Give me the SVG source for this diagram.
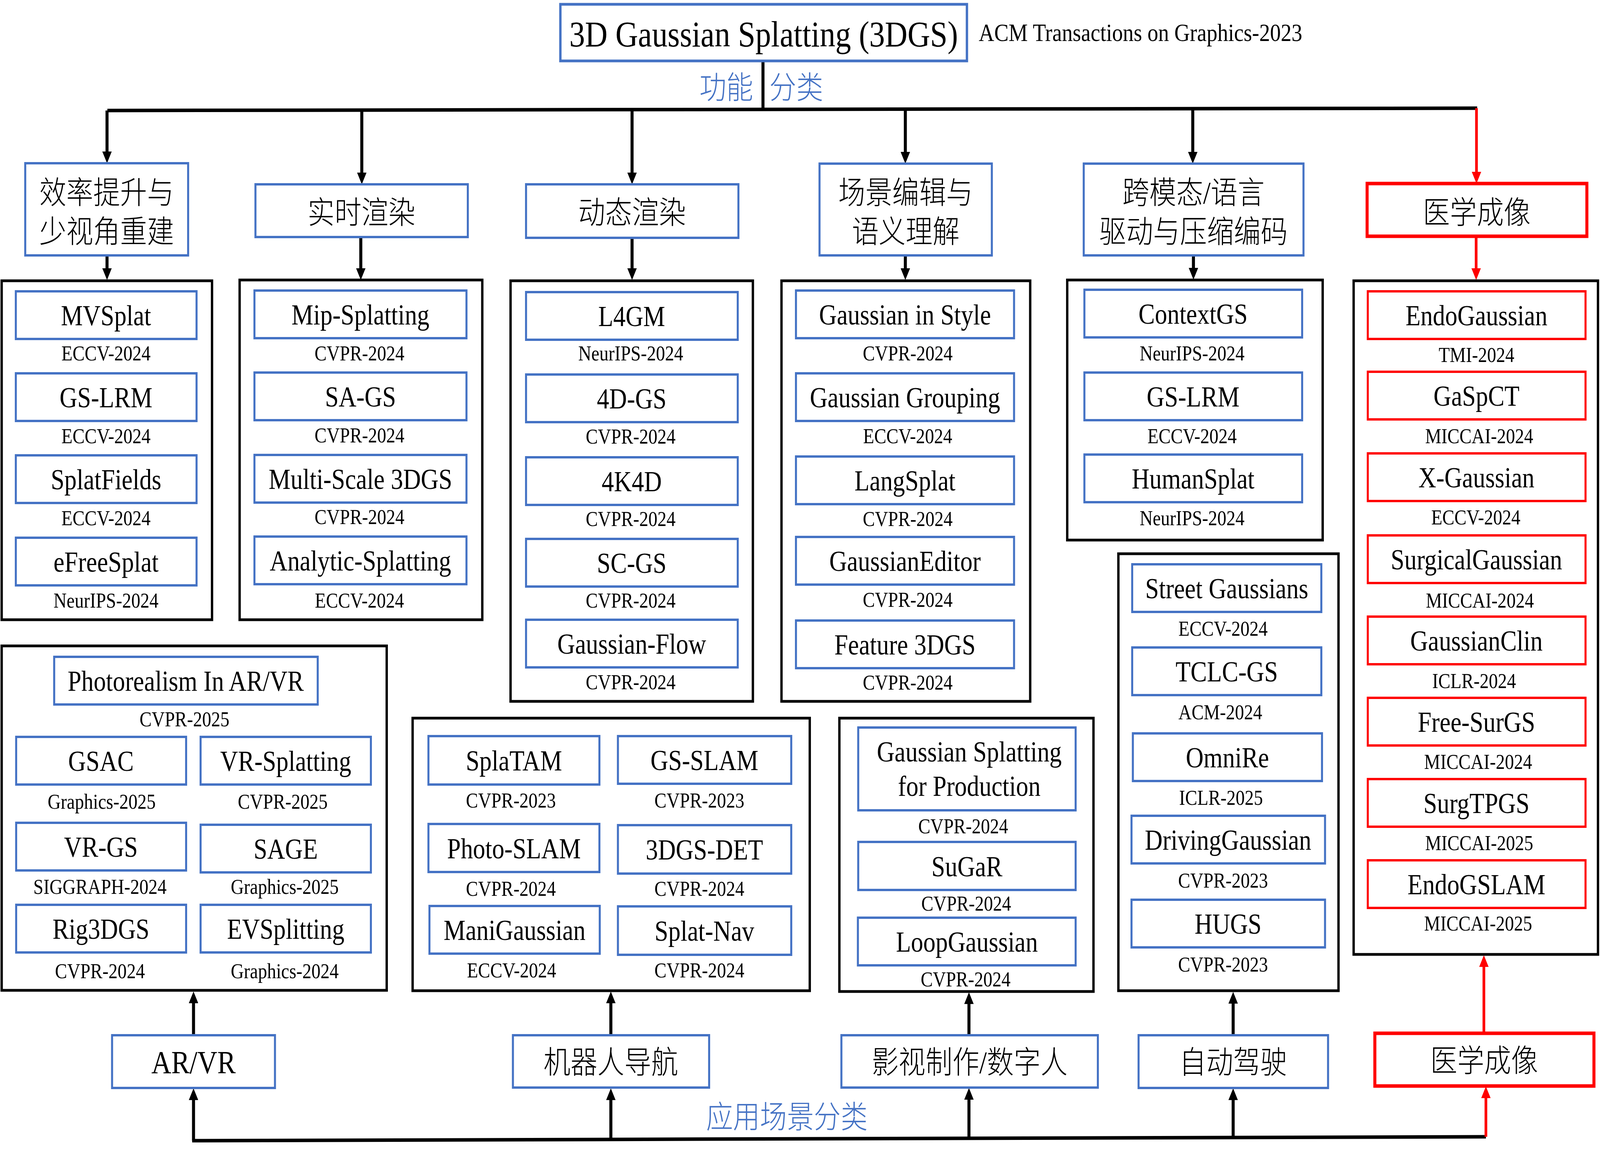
<svg xmlns="http://www.w3.org/2000/svg" width="4754" height="2950" viewBox="0 0 4754 2950" preserveAspectRatio="none" style="width:100vw;height:100vh;display:block">
<style>
.bg{fill:#fff}
.c{fill:none;stroke:#000;stroke-width:7}
.b{fill:#fff;stroke:#4472C4;stroke-width:6}
.bt{fill:#fff;stroke:#4472C4;stroke-width:7}
.r{fill:#fff;stroke:#FF0000;stroke-width:6}
.rt{fill:#fff;stroke:#FF0000;stroke-width:9}
.n{font-family:"Liberation Serif","Noto Sans CJK SC",serif;font-size:73px;text-anchor:middle;fill:#000}
.y{font-family:"Liberation Serif","Noto Sans CJK SC",serif;font-size:54px;text-anchor:middle;fill:#000}
.zh{font-family:"Liberation Serif","Noto Sans CJK SC",sans-serif;font-size:80px;font-weight:300;text-anchor:middle;fill:#000}
.lbl{font-family:"Liberation Serif","Noto Sans CJK SC",sans-serif;font-size:80px;font-weight:300;text-anchor:middle;fill:#4472C4}
.k{fill:none;stroke:#000;stroke-width:9}
.kr{fill:none;stroke:#FF0000;stroke-width:8}
</style>
<defs>
<marker id="ah" viewBox="0 0 30 28" refX="15" refY="14" markerWidth="30" markerHeight="28" markerUnits="userSpaceOnUse" orient="auto"><path d="M0,0 L30,14 L0,28 z" fill="#000"/></marker>
<marker id="ahr" viewBox="0 0 30 28" refX="15" refY="14" markerWidth="30" markerHeight="28" markerUnits="userSpaceOnUse" orient="auto"><path d="M0,0 L30,14 L0,28 z" fill="#FF0000"/></marker>
</defs>
<rect class="bg" x="0" y="0" width="4754" height="2950"/>

<g id="connectors">
<polyline class="k" points="319,283 4389,277"/>
<line class="k" x1="2267" y1="156" x2="2267" y2="281"/>
<line class="k" x1="318" y1="283" x2="318" y2="403" marker-end="url(#ah)"/>
<line class="k" x1="1075" y1="282" x2="1075" y2="457" marker-end="url(#ah)"/>
<line class="k" x1="1878" y1="281" x2="1878" y2="457" marker-end="url(#ah)"/>
<line class="k" x1="2690" y1="280" x2="2690" y2="404" marker-end="url(#ah)"/>
<line class="k" x1="3544" y1="279" x2="3544" y2="404" marker-end="url(#ah)"/>
<line class="kr" x1="4387" y1="277" x2="4387" y2="455" marker-end="url(#ahr)"/>
<line class="k" x1="318" y1="654" x2="318" y2="702" marker-end="url(#ah)"/>
<line class="k" x1="1072" y1="607" x2="1072" y2="702" marker-end="url(#ah)"/>
<line class="k" x1="1878" y1="609" x2="1878" y2="702" marker-end="url(#ah)"/>
<line class="k" x1="2690" y1="654" x2="2690" y2="702" marker-end="url(#ah)"/>
<line class="k" x1="3546" y1="654" x2="3546" y2="701" marker-end="url(#ah)"/>
<line class="kr" x1="4386" y1="605" x2="4386" y2="702" marker-end="url(#ahr)"/>
<polyline class="k" points="571,2921 4415,2911"/>
<line class="k" x1="575" y1="2921" x2="575" y2="2802" marker-end="url(#ah)"/>
<line class="k" x1="1815" y1="2918" x2="1815" y2="2802" marker-end="url(#ah)"/>
<line class="k" x1="2879" y1="2915" x2="2879" y2="2801" marker-end="url(#ah)"/>
<line class="k" x1="3664" y1="2913" x2="3664" y2="2802" marker-end="url(#ah)"/>
<line class="kr" x1="4415" y1="2911" x2="4415" y2="2797" marker-end="url(#ahr)"/>
<line class="k" x1="575" y1="2651" x2="575" y2="2554" marker-end="url(#ah)"/>
<line class="k" x1="1815" y1="2651" x2="1815" y2="2554" marker-end="url(#ah)"/>
<line class="k" x1="2879" y1="2651" x2="2879" y2="2556" marker-end="url(#ah)"/>
<line class="k" x1="3664" y1="2651" x2="3664" y2="2555" marker-end="url(#ah)"/>
<line class="kr" x1="4409" y1="2646" x2="4409" y2="2461" marker-end="url(#ahr)"/>
</g>

<g id="labels">
<text class="lbl" x="2158" y="252">功能</text>
<text class="lbl" x="2366" y="252">分类</text>
<text class="lbl" x="2338" y="2888">应用场景分类</text>
</g>

<g id="title">
<rect class="bt" x="1665" y="11" width="1208" height="145"/>
<text class="n" x="2269" y="119" style="font-size:93px">3D Gaussian Splatting (3DGS)</text>
<text class="n" x="2908" y="105" style="font-size:64px;text-anchor:start">ACM Transactions on Graphics-2023</text>
</g>

<g id="cat-efficiency">
<rect class="b" x="75" y="418" width="484" height="236"/>
<text class="zh" x="317" y="521">效率提升与</text>
<text class="zh" x="317" y="621">少视角重建</text>
</g>
<g id="cat-realtime">
<rect class="b" x="759" y="472" width="631" height="135"/>
<text class="zh" x="1074" y="572">实时渲染</text>
</g>
<g id="cat-dynamic">
<rect class="b" x="1563" y="472" width="631" height="137"/>
<text class="zh" x="1878" y="572">动态渲染</text>
</g>
<g id="cat-scene">
<rect class="b" x="2435" y="419" width="512" height="235"/>
<text class="zh" x="2691" y="521">场景编辑与</text>
<text class="zh" x="2691" y="621">语义理解</text>
</g>
<g id="cat-crossmodal">
<rect class="b" x="3220" y="419" width="653" height="235"/>
<text class="zh" x="3546" y="521">跨模态/语言</text>
<text class="zh" x="3546" y="621">驱动与压缩编码</text>
</g>
<g id="cat-medical">
<rect class="rt" x="4062" y="470" width="653" height="135"/>
<text class="zh" x="4388" y="572">医学成像</text>
</g>

<g id="list-efficiency">
<rect class="c" x="5" y="719" width="625" height="868"/>
<rect class="b" x="47" y="746" width="537" height="122"/><text class="n" x="315" y="833">MVSplat</text><text class="y" x="315" y="923">ECCV-2024</text>
<rect class="b" x="47" y="956" width="537" height="122"/><text class="n" x="315" y="1043">GS-LRM</text><text class="y" x="315" y="1135">ECCV-2024</text>
<rect class="b" x="47" y="1166" width="537" height="122"/><text class="n" x="315" y="1253">SplatFields</text><text class="y" x="315" y="1345">ECCV-2024</text>
<rect class="b" x="47" y="1377" width="537" height="122"/><text class="n" x="315" y="1464">eFreeSplat</text><text class="y" x="315" y="1556">NeurIPS-2024</text>
</g>

<g id="list-realtime">
<rect class="c" x="712" y="717" width="721" height="870"/>
<rect class="b" x="756" y="744" width="630" height="122"/><text class="n" x="1071" y="831">Mip-Splatting</text><text class="y" x="1068" y="923">CVPR-2024</text>
<rect class="b" x="756" y="954" width="630" height="122"/><text class="n" x="1071" y="1041">SA-GS</text><text class="y" x="1068" y="1133">CVPR-2024</text>
<rect class="b" x="756" y="1165" width="630" height="122"/><text class="n" x="1071" y="1252">Multi-Scale 3DGS</text><text class="y" x="1068" y="1342">CVPR-2024</text>
<rect class="b" x="756" y="1374" width="630" height="122"/><text class="n" x="1071" y="1461">Analytic-Splatting</text><text class="y" x="1068" y="1556">ECCV-2024</text>
</g>

<g id="list-dynamic">
<rect class="c" x="1517" y="719" width="720" height="1077"/>
<rect class="b" x="1563" y="748" width="629" height="122"/><text class="n" x="1877" y="835">L4GM</text><text class="y" x="1874" y="923">NeurIPS-2024</text>
<rect class="b" x="1563" y="959" width="629" height="122"/><text class="n" x="1877" y="1046">4D-GS</text><text class="y" x="1874" y="1136">CVPR-2024</text>
<rect class="b" x="1563" y="1171" width="629" height="122"/><text class="n" x="1877" y="1258">4K4D</text><text class="y" x="1874" y="1347">CVPR-2024</text>
<rect class="b" x="1563" y="1380" width="629" height="122"/><text class="n" x="1877" y="1467">SC-GS</text><text class="y" x="1874" y="1556">CVPR-2024</text>
<rect class="b" x="1563" y="1587" width="629" height="122"/><text class="n" x="1877" y="1674">Gaussian-Flow</text><text class="y" x="1874" y="1765">CVPR-2024</text>
</g>

<g id="list-scene">
<rect class="c" x="2322" y="719" width="739" height="1077"/>
<rect class="b" x="2365" y="744" width="648" height="122"/><text class="n" x="2689" y="831">Gaussian in Style</text><text class="y" x="2697" y="923">CVPR-2024</text>
<rect class="b" x="2365" y="956" width="648" height="122"/><text class="n" x="2689" y="1043">Gaussian Grouping</text><text class="y" x="2697" y="1135">ECCV-2024</text>
<rect class="b" x="2365" y="1169" width="648" height="122"/><text class="n" x="2689" y="1256">LangSplat</text><text class="y" x="2697" y="1347">CVPR-2024</text>
<rect class="b" x="2365" y="1375" width="648" height="122"/><text class="n" x="2689" y="1462">GaussianEditor</text><text class="y" x="2697" y="1554">CVPR-2024</text>
<rect class="b" x="2365" y="1589" width="648" height="122"/><text class="n" x="2689" y="1676">Feature 3DGS</text><text class="y" x="2697" y="1766">CVPR-2024</text>
</g>

<g id="list-crossmodal">
<rect class="c" x="3171" y="717" width="759" height="666"/>
<rect class="b" x="3222" y="742" width="647" height="122"/><text class="n" x="3545" y="829">ContextGS</text><text class="y" x="3542" y="923">NeurIPS-2024</text>
<rect class="b" x="3222" y="954" width="647" height="122"/><text class="n" x="3545" y="1041">GS-LRM</text><text class="y" x="3542" y="1135">ECCV-2024</text>
<rect class="b" x="3222" y="1164" width="647" height="122"/><text class="n" x="3545" y="1251">HumanSplat</text><text class="y" x="3542" y="1345">NeurIPS-2024</text>
</g>

<g id="list-medical">
<rect class="c" x="4022" y="719" width="726" height="1725"/>
<rect class="r" x="4064" y="746" width="647" height="122"/><text class="n" x="4387" y="833">EndoGaussian</text><text class="y" x="4387" y="927">TMI-2024</text>
<rect class="r" x="4064" y="952" width="647" height="122"/><text class="n" x="4387" y="1039">GaSpCT</text><text class="y" x="4395" y="1135">MICCAI-2024</text>
<rect class="r" x="4064" y="1161" width="647" height="122"/><text class="n" x="4387" y="1248">X-Gaussian</text><text class="y" x="4385" y="1343">ECCV-2024</text>
<rect class="r" x="4064" y="1371" width="647" height="122"/><text class="n" x="4387" y="1458">SurgicalGaussian</text><text class="y" x="4397" y="1556">MICCAI-2024</text>
<rect class="r" x="4064" y="1579" width="647" height="122"/><text class="n" x="4387" y="1666">GaussianClin</text><text class="y" x="4380" y="1762">ICLR-2024</text>
<rect class="r" x="4064" y="1787" width="647" height="122"/><text class="n" x="4387" y="1874">Free-SurGS</text><text class="y" x="4392" y="1969">MICCAI-2024</text>
<rect class="r" x="4064" y="1995" width="647" height="122"/><text class="n" x="4387" y="2082">SurgTPGS</text><text class="y" x="4395" y="2177">MICCAI-2025</text>
<rect class="r" x="4064" y="2203" width="647" height="122"/><text class="n" x="4387" y="2290">EndoGSLAM</text><text class="y" x="4392" y="2383">MICCAI-2025</text>
</g>

<g id="list-driving">
<rect class="c" x="3323" y="1418" width="654" height="1119"/>
<rect class="b" x="3364" y="1445" width="562" height="122"/><text class="n" x="3645" y="1532">Street Gaussians</text><text class="y" x="3634" y="1628">ECCV-2024</text>
<rect class="b" x="3364" y="1658" width="562" height="122"/><text class="n" x="3645" y="1745">TCLC-GS</text><text class="y" x="3626" y="1842">ACM-2024</text>
<rect class="b" x="3366" y="1878" width="562" height="122"/><text class="n" x="3647" y="1965">OmniRe</text><text class="y" x="3628" y="2061">ICLR-2025</text>
<rect class="b" x="3362" y="2089" width="575" height="122"/><text class="n" x="3649" y="2176">DrivingGaussian</text><text class="y" x="3634" y="2273">CVPR-2023</text>
<rect class="b" x="3362" y="2304" width="575" height="122"/><text class="n" x="3649" y="2391">HUGS</text><text class="y" x="3634" y="2488">CVPR-2023</text>
</g>

<g id="list-arvr">
<rect class="c" x="5" y="1654" width="1144" height="882"/>
<rect class="b" x="161" y="1682" width="783" height="122"/><text class="n" x="552" y="1769">Photorealism In AR/VR</text><text class="y" x="548" y="1860">CVPR-2025</text>
<rect class="b" x="48" y="1887" width="505" height="122"/><text class="n" x="300" y="1974">GSAC</text><text class="y" x="302" y="2071">Graphics-2025</text>
<rect class="b" x="596" y="1887" width="506" height="122"/><text class="n" x="849" y="1974">VR-Splatting</text><text class="y" x="840" y="2071">CVPR-2025</text>
<rect class="b" x="48" y="2107" width="505" height="122"/><text class="n" x="300" y="2194">VR-GS</text><text class="y" x="297" y="2289">SIGGRAPH-2024</text>
<rect class="b" x="596" y="2112" width="506" height="122"/><text class="n" x="849" y="2199">SAGE</text><text class="y" x="846" y="2289">Graphics-2025</text>
<rect class="b" x="48" y="2317" width="505" height="122"/><text class="n" x="300" y="2404">Rig3DGS</text><text class="y" x="297" y="2505">CVPR-2024</text>
<rect class="b" x="596" y="2317" width="506" height="122"/><text class="n" x="849" y="2404">EVSplitting</text><text class="y" x="846" y="2505">Graphics-2024</text>
</g>

<g id="list-robot">
<rect class="c" x="1226" y="1839" width="1180" height="698"/>
<rect class="b" x="1273" y="1885" width="508" height="124"/><text class="n" x="1527" y="1973">SplaTAM</text><text class="y" x="1518" y="2068">CVPR-2023</text>
<rect class="b" x="1836" y="1885" width="515" height="122"/><text class="n" x="2093" y="1972">GS-SLAM</text><text class="y" x="2078" y="2068">CVPR-2023</text>
<rect class="b" x="1273" y="2110" width="508" height="123"/><text class="n" x="1527" y="2198">Photo-SLAM</text><text class="y" x="1518" y="2294">CVPR-2024</text>
<rect class="b" x="1836" y="2113" width="515" height="124"/><text class="n" x="2093" y="2201">3DGS-DET</text><text class="y" x="2078" y="2294">CVPR-2024</text>
<rect class="b" x="1276" y="2320" width="506" height="122"/><text class="n" x="1529" y="2407">ManiGaussian</text><text class="y" x="1520" y="2503">ECCV-2024</text>
<rect class="b" x="1836" y="2321" width="515" height="124"/><text class="n" x="2093" y="2409">Splat-Nav</text><text class="y" x="2078" y="2503">CVPR-2024</text>
</g>

<g id="list-film">
<rect class="c" x="2494" y="1839" width="755" height="700"/>
<rect class="b" x="2550" y="1863" width="646" height="212"/><text class="n" x="2880" y="1950">Gaussian Splatting</text><text class="n" x="2880" y="2038">for Production</text><text class="y" x="2862" y="2134">CVPR-2024</text>
<rect class="b" x="2550" y="2156" width="646" height="123"/><text class="n" x="2873" y="2244">SuGaR</text><text class="y" x="2871" y="2332">CVPR-2024</text>
<rect class="b" x="2549" y="2350" width="647" height="122"/><text class="n" x="2873" y="2437">LoopGaussian</text><text class="y" x="2869" y="2526">CVPR-2024</text>
</g>

<g id="app-arvr">
<rect class="b" x="333" y="2651" width="484" height="135"/>
<text class="n" x="575" y="2748" style="font-size:82px">AR/VR</text>
</g>
<g id="app-robot">
<rect class="b" x="1524" y="2651" width="583" height="134"/>
<text class="zh" x="1815" y="2748">机器人导航</text>
</g>
<g id="app-film">
<rect class="b" x="2500" y="2651" width="762" height="134"/>
<text class="zh" x="2881" y="2748">影视制作/数字人</text>
</g>
<g id="app-driving">
<rect class="b" x="3383" y="2651" width="563" height="135"/>
<text class="zh" x="3664" y="2748">自动驾驶</text>
</g>
<g id="app-medical">
<rect class="rt" x="4085" y="2646" width="651" height="135"/>
<text class="zh" x="4410" y="2744">医学成像</text>
</g>
</svg>
